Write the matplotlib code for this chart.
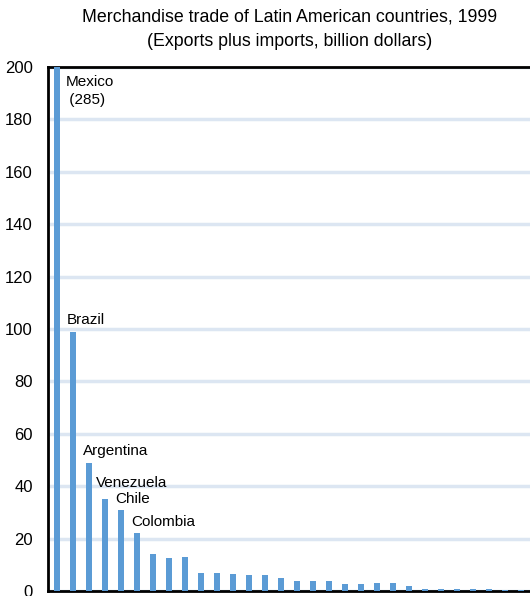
import matplotlib.pyplot as plt
import numpy as np

# trade values, billion dollars (Mexico bar clipped at 200)
values = [285, 99, 49, 35, 31, 22, 14, 12.6, 13, 7, 7, 6.5, 6, 6, 5,
          3.8, 3.8, 3.8, 2.7, 2.7, 3.1, 3.1, 1.9, 0.8, 0.8, 0.8, 0.8, 0.8,
          0.4, 0.4]
labels = ['Mexico\n (285)', 'Brazil', 'Argentina', 'Venezuela', 'Chile', 'Colombia']
yticks = [0, 20, 40, 60, 80, 100, 120, 140, 160, 180, 200]

plt.rcParams['font.family'] = ['Liberation Sans Narrow', 'Liberation Sans', 'DejaVu Sans']

fig = plt.figure(figsize=(5.3, 5.96), dpi=100)
px = 16  # pixels per bar slot
left = 48 / 530
ax = fig.add_axes([left, 5 / 596, 32.04 * px / 530, 524 / 596])

x = np.arange(len(values))
ax.bar(x, values, width=0.38, color='#5b9bd5', zorder=3)

ax.set_xlim(-0.54, 31.5)
ax.set_ylim(0, 200)
ax.set_yticks(yticks)
ax.set_xticks([])
ax.tick_params(axis='y', length=0, pad=11, labelsize=12)
ax.grid(axis='y', color='#dce6f2', linewidth=2.5, zorder=0)

for s in ['left', 'top', 'bottom']:
    ax.spines[s].set_linewidth(2)
ax.spines['right'].set_visible(False)

for i, name in enumerate(labels):
    top = min(values[i], 200)
    if i == 0:
        ax.text(i + 0.55, 197, name, fontsize=11, va='top', ha='left',
                linespacing=1.4)
    else:
        dy = 7 if name == 'Venezuela' else 3
        dx = -6 if name == 'Venezuela' else -4
        ax.annotate(name, (i, top), xytext=(dx, dy), textcoords='offset points',
                    fontsize=11, ha='left', va='bottom')

fig.text(290 / 530, 1 - 17 / 596, 'Merchandise trade of Latin American countries, 1999',
         ha='center', va='center', fontsize=12.8)
fig.text(290 / 530, 1 - 42 / 596, '(Exports plus imports, billion dollars)',
         ha='center', va='center', fontsize=12.8)

fig.savefig('out.png', dpi=100)
